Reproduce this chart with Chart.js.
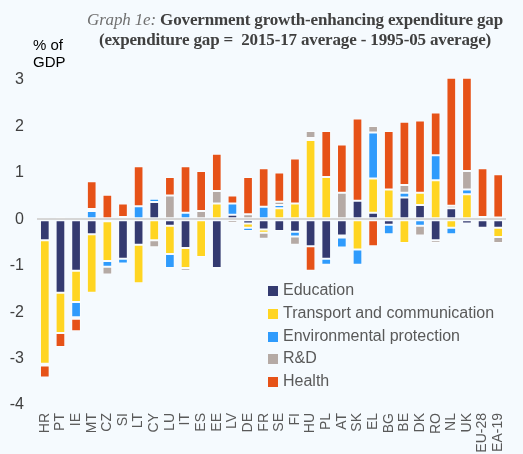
<!DOCTYPE html>
<html>
<head>
<meta charset="utf-8">
<script src="https://cdn.jsdelivr.net/npm/chart.js@4/dist/chart.umd.min.js"></script>
<style>
  html, body { margin: 0; padding: 0; background: #f5fafe; }
  #wrap { position: relative; width: 523px; height: 454px; overflow: hidden; }
  #title { position: absolute; left: 0; width: 590px; top: 10px; text-align: center;
    font-family: "Liberation Serif", serif; font-size: 17px; line-height: 20px; color: #404040;
    font-weight: bold; letter-spacing: -0.15px; white-space: nowrap; }
  #title i { font-weight: normal; color: #707070; }
  #unit { position: absolute; left: 33px; top: 36px; font-family: "Liberation Sans", Arial, sans-serif;
    font-size: 15px; line-height: 17px; color: #000; }
  #legend { position: absolute; left: 268px; top: 279px; font-family: "Liberation Sans", Arial, sans-serif;
    font-size: 16px; color: #595959; }
  #legend div { height: 22.8px; line-height: 22.8px; white-space: nowrap; }
  #legend span { display: inline-block; width: 10px; height: 10px; margin-right: 5px; vertical-align: -1px; }
</style>
</head>
<body>
<div id="wrap">
  <canvas id="gapChart" width="523" height="454"></canvas>
  <div id="title"><i>Graph 1e:</i> Government growth-enhancing expenditure gap<br>(expenditure gap =&nbsp; 2015-17 average - 1995-05 average)</div>
  <div id="unit">% of<br>GDP</div>
  <div id="legend"></div>
</div>
<script>
// countries
const countries = ['HR', 'PT', 'IE', 'MT', 'CZ', 'SI', 'LT', 'CY', 'LU', 'IT', 'ES', 'EE', 'LV', 'DE', 'FR',
    'SE', 'FI', 'HU', 'PL', 'AT', 'SK', 'EL', 'BG', 'BE', 'DK', 'RO', 'NL', 'UK', 'EU-28', 'EA-19'];

// expenditure gap by function, % of GDP
const education = [-0.45, -1.58, -1.11, -0.32, -0.04, -0.85, -0.55, 0.37, -0.14, -0.62, 0, -1.05, 0.10, -0.09, -0.22,
    -0.25, -0.27, -0.58, -0.85, -0.35, 0.40, 0.14, -0.12, 0.47, 0.31, -0.45, 0.24, -0.09, -0.18, -0.18];
const transport = [-2.66, -0.87, -0.67, -1.26, -0.86, 0, -0.83, -0.45, -0.61, -0.43, -0.81, 0.34, 0, -0.09, -0.07,
    0.24, 0.34, 1.71, 0.91, -0.04, -0.65, 0.74, 0.64, -0.51, 0.26, 0.84, -0.18, 0.54, 0, -0.20];
const environment = [0.04, 0, -0.33, 0.18, -0.12, -0.10, 0.28, 0.07, -0.30, 0.14, 0, -0.03, 0.24, -0.07, 0.27,
    0.07, -0.10, 0.04, -0.13, -0.22, -0.33, 0.99, -0.20, 0.10, -0.14, 0.54, -0.14, 0.10, 0.05, 0.04];
const research = [-0.04, 0.05, -0.03, 0.04, -0.17, 0.05, 0, -0.15, 0.51, -0.06, 0.18, 0.27, -0.08, 0.11, -0.13,
    0.07, -0.18, 0.15, -0.03, 0.57, -0.02, 0.14, 0, 0.17, -0.21, -0.06, 0.05, 0.40, -0.03, -0.13];
const health = [-0.26, -0.30, -0.27, 0.60, 0.53, 0.29, 0.86, -0.03, 0.40, 1.00, 0.86, 0.80, 0.17, 0.80, 0.83,
    0.63, 0.97, -0.53, 0.99, 1.04, 1.77, -0.58, 1.26, 1.36, 1.56, 0.92, 2.76, 2.01, 1.05, 0.93];

const yTicks = [-4, -3, -2, -1, 0, 1, 2, 3];

const series = [
    { label: 'Education', data: education, color: '#343a70' },
    { label: 'Transport and communication', data: transport, color: '#ffd522' },
    { label: 'Environmental protection', data: environment, color: '#2f9bfc' },
    { label: 'R&D', data: research, color: '#b5aaa5' },
    { label: 'Health', data: health, color: '#e65218' },
];

const legend = document.getElementById('legend');
series.forEach(s => {
    const row = document.createElement('div');
    row.innerHTML = '<span style="background:' + s.color + '"></span>' + s.label.replace('&', '&amp;');
    legend.appendChild(row);
});

new Chart(document.getElementById('gapChart').getContext('2d'), {
    type: 'bar',
    data: {
        labels: countries,
        datasets: series.map(s => ({
            label: s.label,
            data: s.data,
            backgroundColor: s.color,
            borderColor: 'rgba(255,255,255,0.45)',
            borderWidth: 1,
            borderSkipped: false,
            barPercentage: 0.62,
            categoryPercentage: 1,
            clip: false,
        })),
    },
    options: {
        responsive: false,
        animation: false,
        layout: { padding: { top: 80, right: 0, left: 0, bottom: 0 } },
        plugins: { legend: { display: false }, tooltip: { enabled: false }, title: { display: false } },
        scales: {
            x: {
                stacked: true,
                grid: { display: false, drawTicks: false },
                border: { display: false },
                ticks: {
                    color: '#595959', font: { family: 'Liberation Sans', size: 14 },
                    minRotation: 90, maxRotation: 90, autoSkip: false, padding: 8,
                },
                afterFit: scale => { scale.height = 49; },
            },
            y: {
                stacked: true,
                min: -4,
                max: 3,
                afterBuildTicks: scale => { scale.ticks = yTicks.map(v => ({ value: v })); },
                grid: {
                    drawTicks: false,
                    color: ctx => ctx.tick && ctx.tick.value === 0 ? '#d6d6d6' : 'rgba(0,0,0,0)',
                    lineWidth: 2,
                },
                border: { display: false },
                ticks: { color: '#404040', font: { family: 'Liberation Sans', size: 16 }, padding: 13 },
                afterFit: scale => { scale.width = 37; },
            },
        },
    },
});
</script>
</body>
</html>
